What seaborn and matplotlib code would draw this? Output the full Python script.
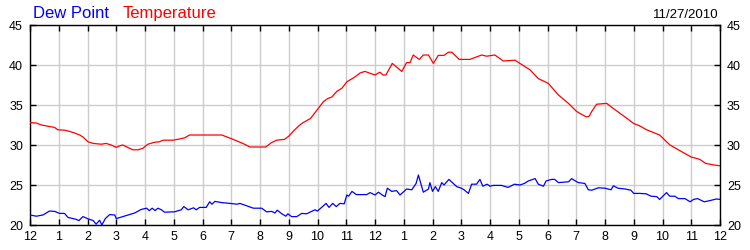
import numpy as np
import pandas as pd
import matplotlib
matplotlib.use("Agg")
import matplotlib.pyplot as plt
import seaborn as sns

# ---- data ----
temp_hours = [0, 0.22, 0.4, 0.69, 0.85, 0.97, 1.21, 1.38, 1.55, 1.73, 1.84, 2.02, 2.2, 2.48, 2.65, 2.82,
              3.0, 3.12, 3.23, 3.4, 3.58, 3.76, 3.93, 4.1, 4.34, 4.5, 4.63, 4.97, 5.2, 5.38, 5.55, 6.0,
              6.67, 6.85, 7.0, 7.2, 7.4, 7.65, 8.2, 8.4, 8.58, 8.85, 9.0, 9.15, 9.35, 9.5, 9.75, 9.97,
              10.2, 10.35, 10.5, 10.67, 10.85, 11.02, 11.3, 11.48, 11.65, 11.8, 12.0, 12.17, 12.28, 12.38,
              12.6, 12.93, 13.1, 13.22, 13.33, 13.54, 13.68, 13.86, 14.03, 14.2, 14.4, 14.55, 14.67, 14.93,
              15.3, 15.71, 15.88, 16.17, 16.46, 16.87, 17.04, 17.39, 17.68, 18.03, 18.38, 18.73, 19.01, 19.2,
              19.36, 19.45, 19.54, 19.71, 20.06, 20.35, 20.7, 20.99, 21.2, 21.45, 21.9, 22.26, 22.6, 23.0,
              23.3, 23.5, 23.8, 24.0]
temp_values = [32.8, 32.75, 32.5, 32.3, 32.2, 31.9, 31.85, 31.7, 31.5, 31.25, 31.0, 30.4, 30.2, 30.1, 30.2, 30.0,
               29.7, 29.9, 30.0, 29.7, 29.4, 29.4, 29.6, 30.1, 30.35, 30.4, 30.6, 30.6, 30.75, 30.9, 31.25, 31.25,
               31.25, 31.0, 30.8, 30.5, 30.2, 29.75, 29.75, 30.3, 30.6, 30.7, 31.1, 31.7, 32.4, 32.8, 33.3, 34.3,
               35.4, 35.8, 36.0, 36.7, 37.1, 37.9, 38.5, 39.0, 39.2, 39.0, 38.75, 39.1, 38.75, 38.75,
               40.2, 39.2, 40.3, 40.3, 41.25, 40.7, 41.25, 41.25, 40.2, 41.2, 41.2, 41.6, 41.6, 40.7,
               40.7, 41.25, 41.1, 41.25, 40.5, 40.6, 40.2, 39.4, 38.3, 37.7, 36.25, 35.2, 34.2, 33.8,
               33.5, 33.6, 34.2, 35.1, 35.2, 34.4, 33.5, 32.7, 32.4, 31.9, 31.25, 30.0, 29.3, 28.5,
               28.2, 27.7, 27.5, 27.4]

dew_hours = [0, 0.22, 0.45, 0.68, 0.86, 1.03, 1.2, 1.32, 1.61, 1.7, 1.84, 2.0, 2.2, 2.3, 2.42, 2.5,
             2.62, 2.77, 2.95, 3.0, 3.18, 3.4, 3.64, 3.87, 4.06, 4.15, 4.25, 4.35, 4.45, 4.57, 4.68, 5.03,
             5.26, 5.35, 5.5, 5.69, 5.78, 5.9, 6.13, 6.25, 6.33, 6.43, 6.67, 6.96, 7.2, 7.3, 7.54, 7.77,
             8.06, 8.23, 8.41, 8.52, 8.6, 8.76, 8.9, 8.97, 9.1, 9.28, 9.45, 9.62, 9.91, 10.0, 10.3, 10.4,
             10.53, 10.65, 10.78, 10.93, 11.02, 11.08, 11.2, 11.35, 11.71, 11.83, 12.0, 12.12, 12.25, 12.35,
             12.43, 12.58, 12.75, 12.87, 13.1, 13.28, 13.43, 13.51, 13.68, 13.86, 13.91, 14.0, 14.1, 14.2,
             14.32, 14.4, 14.57, 14.84, 15.0, 15.1, 15.25, 15.36, 15.53, 15.65, 15.75, 15.9, 16.0, 16.11,
             16.4, 16.63, 16.85, 17.04, 17.2, 17.33, 17.57, 17.68, 17.86, 17.95, 18.14, 18.25, 18.38, 18.55,
             18.73, 18.84, 18.95, 19.07, 19.3, 19.42, 19.54, 19.77, 20.0, 20.21, 20.29, 20.45, 20.7, 20.9,
             21.0, 21.2, 21.43, 21.6, 21.8, 21.9, 22.14, 22.25, 22.43, 22.55, 22.78, 22.96, 23.08, 23.22,
             23.45, 23.65, 23.87, 24.0]
dew_values = [21.25, 21.1, 21.25, 21.75, 21.7, 21.45, 21.45, 20.95, 20.7, 20.55, 21.05, 20.8, 20.55, 20.1, 20.6, 20.0,
              20.8, 21.3, 21.25, 20.8, 21.0, 21.25, 21.5, 21.95, 22.1, 21.8, 22.1, 21.8, 22.1, 21.9, 21.6, 21.65,
              21.9, 22.3, 21.9, 22.15, 21.9, 22.2, 22.2, 22.9, 22.6, 22.95, 22.8, 22.7, 22.6, 22.7, 22.4, 22.1,
              22.1, 21.65, 21.7, 21.5, 21.85, 21.4, 21.1, 21.4, 21.05, 21.05, 21.45, 21.4, 21.9, 21.75, 22.7, 22.2,
              22.7, 22.3, 22.7, 22.65, 23.75, 23.6, 24.2, 23.8, 23.8, 24.05, 23.75, 24.1, 23.75, 23.55,
              24.6, 24.2, 24.3, 23.75, 24.5, 24.4, 25.2, 26.25, 24.1, 24.5, 25.3, 24.2, 24.8, 24.2,
              25.3, 25.0, 25.7, 24.8, 24.6, 24.4, 23.95, 25.1, 25.1, 25.7, 24.85, 25.1, 24.85, 24.95,
              24.95, 24.7, 25.1, 25.0, 25.2, 25.5, 25.8, 25.1, 24.85, 25.5, 25.7, 25.7, 25.3, 25.35,
              25.4, 25.8, 25.55, 25.3, 25.2, 24.4, 24.35, 24.65, 24.6, 24.4, 24.9, 24.6, 24.5, 24.35,
              23.95, 23.95, 23.9, 23.6, 23.55, 23.2, 24.05, 23.6, 23.6, 23.3, 23.3, 22.9, 23.2, 23.3,
              22.9, 23.05, 23.25, 23.2]

x_tick_labels = ["12", "1", "2", "3", "4", "5", "6", "7", "8", "9", "10", "11",
                 "12", "1", "2", "3", "4", "5", "6", "7", "8", "9", "10", "11", "12"]
y_ticks = [20, 25, 30, 35, 40, 45]
title_dew = "Dew Point"
title_temp = "Temperature"
date_label = "11/27/2010"

# ---- style ----
sns.set_style("white")
plt.rcParams['font.family'] = ['Liberation Sans', 'DejaVu Sans']

fig = plt.figure(figsize=(7.5, 2.5), dpi=100)
ax = fig.add_axes([30 / 750, 25 / 250, 690 / 750, 200 / 250])

sns.lineplot(x=temp_hours, y=temp_values, ax=ax, color="#ff0000", linewidth=0.9, zorder=3)
sns.lineplot(x=dew_hours, y=dew_values, ax=ax, color="#0000ff", linewidth=0.9, zorder=3)

ax.set_xlim(0, 24)
ax.set_ylim(20, 45)
ax.set_xticks(range(25))
ax.set_xticklabels(x_tick_labels)
ax.set_yticks(y_ticks)
ax.set_yticklabels([str(v) for v in y_ticks])
ax.set_xlabel("")
ax.set_ylabel("")

ax.grid(True, color="#cccccc", linewidth=1.0, zorder=0)
ax.set_axisbelow(True)
for s in ax.spines.values():
    s.set_visible(True)
    s.set_color("black")
    s.set_linewidth(1.0)

ax.tick_params(axis="both", direction="in", length=4, width=1, color="black",
               labelsize=9, labelcolor="black", pad=5)
ax.tick_params(axis="x", top=True, bottom=True, pad=4)
ax.tick_params(axis="y", left=True, right=True, labelleft=True, labelright=True)

ybase = 1 - 17.5 / 250
fig.text(33 / 750, ybase, title_dew, color="#0000ff", fontsize=12, va="baseline", ha="left")
fig.text(123 / 750, ybase, title_temp, color="#ff0000", fontsize=12, va="baseline", ha="left")
fig.text(719 / 750, ybase, date_label, color="black", fontsize=9.5, va="baseline", ha="right")

fig.savefig("out.png", dpi=100, facecolor="white")
